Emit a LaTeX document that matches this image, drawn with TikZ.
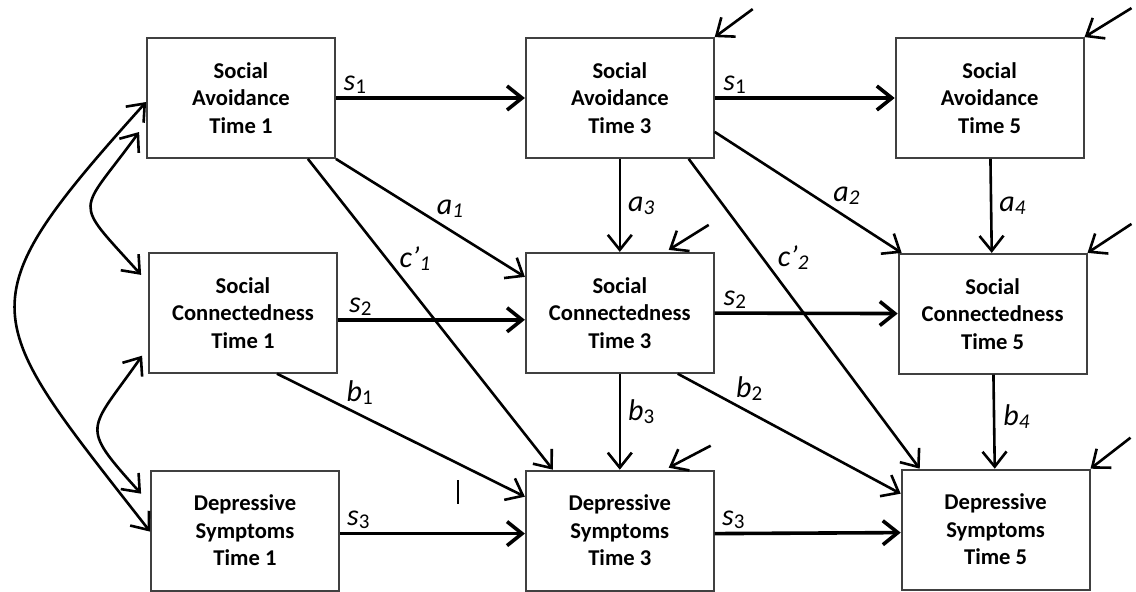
\documentclass[tikz,border=0pt]{standalone}
\usepackage{fontspec}
\setmainfont{Carlito}
\usetikzlibrary{positioning, arrows.meta}

\newcommand{\coef}[2]{\textit{#1}\raisebox{-3pt}{\fontsize{21}{21}\selectfont #2}}

\begin{document}
\begin{tikzpicture}[
    x=1pt, y=1pt, line width=2.6pt,
    >={Straight Barb[length=15pt, width=24pt]},
    var/.style={rectangle, draw=black!75, line width=1.8pt, minimum width=188pt, minimum height=120pt,
      inner sep=0, align=center, font=\bfseries\fontsize{22.6}{27.5}\selectfont},
    coef/.style={font=\fontsize{30}{32}\selectfont, inner sep=0},
    reg/.style={->},
    stab/.style={->, line width=3.6pt},
    cov/.style={<->},
  ]
  \useasboundingbox (0,0) rectangle (1136,-592);

  % top row
  \node[var] (SA1) at (241,-98) {Social\\Avoidance\\Time 1};
  \node[var, right=189pt of SA1] (SA3) {Social\\Avoidance\\Time 3};
  \node[var, right=180pt of SA3] (SA5) {Social\\Avoidance\\Time 5};

  \node[var, below=93pt of SA1, xshift=2pt] (SC1) {Social\\Connectedness\\Time 1};
  \node[var, below=93pt of SA3] (SC3) {Social\\Connectedness\\Time 3};
  \node[var, below=94pt of SA5, xshift=3pt] (SC5) {Social\\Connectedness\\Time 5};

  \node[var, below=96pt of SC1, xshift=2pt] (DS1) {Depressive\\Symptoms\\Time 1};
  \node[var, below=96pt of SC3] (DS3) {Depressive\\Symptoms\\Time 3};
  \node[var, below=94pt of SC5, xshift=3pt] (DS5) {Depressive\\Symptoms\\Time 5};

  % stability paths
  \draw[stab] (SA1) -- node[coef, pos=0.1, above=3pt] {\coef{s}{1}} (SA3);
  \draw[stab] (SA3) -- node[coef, pos=0.11, above=3pt] {\coef{s}{1}} (SA5);
  \draw[stab] ([yshift=-7pt]SC1.east) -- node[coef, pos=0.12, above=3pt] {\coef{s}{2}} ([yshift=-7pt]SC3.west);
  \draw[stab] (SC3) -- node[coef, pos=0.11, above=3pt] {\coef{s}{2}} (SC5);
  \draw[stab] ([yshift=-3pt]DS1.east) -- node[coef, pos=0.1, above=3pt] {\coef{s}{3}} ([yshift=-3pt]DS3.west);
  \draw[stab] ([yshift=-3pt]DS3.east) -- node[coef, pos=0.1, above=3pt] {\coef{s}{3}} ([yshift=-3pt]DS5.west);

  % within-wave paths
  \draw[reg] (SA3) -- node[coef, midway, right=7pt] {\coef{a}{\textit{3}}} (SC3);
  \draw[reg] (SA5) -- node[coef, midway, right=7pt] {\coef{a}{\textit{4}}} (SC5);
  \draw[reg] (SC3) -- node[coef, pos=0.4, right=7pt] {\coef{b}{3}} (DS3);
  \draw[reg] (SC5) -- node[coef, pos=0.45, right=8pt] {\coef{b}{\textit{4}}} (DS5);

  % cross-lagged paths
  \draw[reg] (SA1.south east) -- node[coef, pos=0.52, above right=2pt] {\coef{a}{\textit{1}}} ([yshift=-25pt]SC3.north west);
  \draw[reg] ([xshift=-28pt]SA1.south east) -- node[coef, pos=0.32, right=12pt] {\coef{c’}{\textit{1}}} ([xshift=28pt]DS3.north west);
  \draw[reg] ([xshift=34pt]SC1.south) -- node[coef, pos=0.27, above right=2pt] {\coef{b}{1}} ([yshift=-27pt]DS3.north west);
  \draw[reg] ([yshift=27pt]SA3.south east) -- node[coef, pos=0.62, above right=2pt] {\coef{a}{\textit{2}}} ([xshift=4pt]SC5.north west);
  \draw[reg] ([xshift=-26pt]SA3.south east) -- node[coef, pos=0.32, right=14pt] {\coef{c’}{\textit{2}}} ([xshift=19pt]DS5.north west);
  \draw[reg] ([xshift=-37pt]SC3.south east) -- node[coef, pos=0.25, above right=2pt] {\coef{b}{2}} ([yshift=-25pt]DS5.north west);

  % residuals
  \coordinate (eSA3) at ([shift={(38pt,28pt)}]SA3.north east);
  \coordinate (eSA5) at ([shift={(47pt,29pt)}]SA5.north east);
  \coordinate (eSC3) at ([shift={(-6pt,27pt)}]SC3.north east);
  \coordinate (eSC5) at ([shift={(44pt,29pt)}]SC5.north east);
  \coordinate (eDS3) at ([shift={(-4pt,24pt)}]DS3.north east);
  \coordinate (eDS5) at ([shift={(40pt,31pt)}]DS5.north east);
  \draw[reg] (eSA3) -- (SA3.north east);
  \draw[reg] (eSA5) -- (SA5.north east);
  \draw[reg] (eSC3) -- ([xshift=-46pt, yshift=2pt]SC3.north east);
  \draw[reg] (eSC5) -- (SC5.north east);
  \draw[reg] (eDS3) -- ([xshift=-46pt, yshift=2pt]DS3.north east);
  \draw[reg] (eDS5) -- (DS5.north east);

  % correlations at time 1
  \draw[cov] ([yshift=-4pt]SA1.west) to[out=228, in=128, looseness=1.64] ([yshift=-1pt]DS1.west);
  \draw[cov] ([xshift=-7pt, yshift=-34pt]SA1.west) to[out=234, in=132, looseness=1.86] ([xshift=-7pt, yshift=-23pt]SC1.north west);
  \draw[cov] ([xshift=-6pt, yshift=18pt]SC1.south west) to[out=235, in=132, looseness=1.73] ([xshift=-9pt, yshift=-24pt]DS1.north west);

  \draw[line width=2pt] (458,-480) -- (458,-504);
\end{tikzpicture}
\end{document}
